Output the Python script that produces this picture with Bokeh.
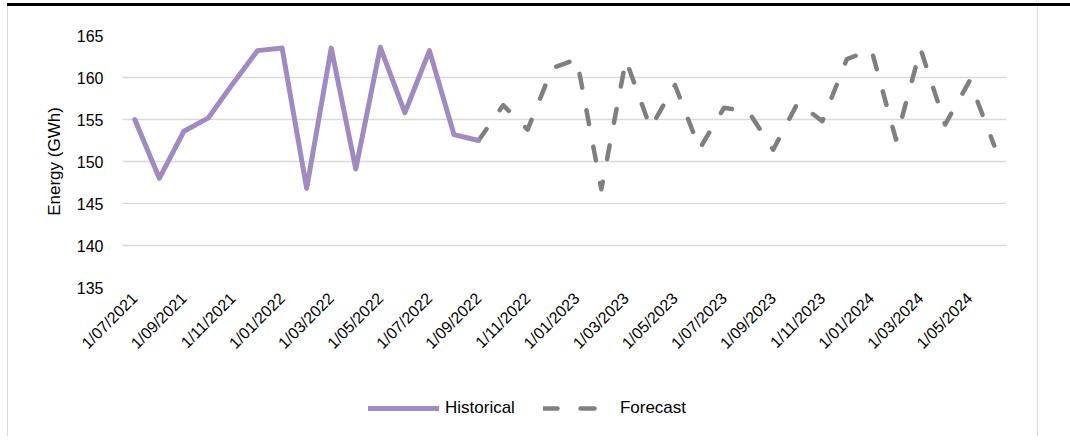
import math
from bokeh.plotting import figure
from bokeh.layouts import column
from bokeh.models import FixedTicker, Legend, LegendItem, Range1d
from bokeh.embed import file_html
from bokeh.resources import INLINE

# ---- data -------------------------------------------------------------
months = ["1/07/2021", "1/08/2021", "1/09/2021", "1/10/2021", "1/11/2021", "1/12/2021",
          "1/01/2022", "1/02/2022", "1/03/2022", "1/04/2022", "1/05/2022", "1/06/2022",
          "1/07/2022", "1/08/2022", "1/09/2022", "1/10/2022", "1/11/2022", "1/12/2022",
          "1/01/2023", "1/02/2023", "1/03/2023", "1/04/2023", "1/05/2023", "1/06/2023",
          "1/07/2023", "1/08/2023", "1/09/2023", "1/10/2023", "1/11/2023", "1/12/2023",
          "1/01/2024", "1/02/2024", "1/03/2024", "1/04/2024", "1/05/2024", "1/06/2024"]

historical = [155.0, 148.0, 153.6, 155.2, 159.3, 163.2, 163.5, 146.8, 163.5, 149.1,
              163.6, 155.8, 163.2, 153.2, 152.5]

forecast_start = 14
forecast = [152.5, 156.7, 153.8, 161.1, 162.2, 146.7, 162.1, 154.0, 159.1, 151.5,
            156.4, 155.9, 151.4, 157.0, 154.8, 162.2, 163.3, 152.6, 163.4, 154.4,
            159.6, 151.9]

tick_labels = months[::2]
y_ticks = [135, 140, 145, 150, 155, 160, 165]
series_names = ["Historical", "Forecast"]

# ---- styles -----------------------------------------------------------
FONT = "Liberation Sans"
HIST_COLOR = "#9f8bc2"
FC_COLOR = "#7f7f7f"
FC_DASH = "14 23"

xs = list(range(len(months)))
hist_x = xs[:len(historical)]
fc_x = xs[forecast_start:forecast_start + len(forecast)]

# ---- main chart -------------------------------------------------------
p = figure(width=1029, height=360, output_backend="svg", toolbar_location=None,
           x_range=Range1d(-0.5, len(months) - 0.5), y_range=Range1d(135, 165),
           min_border_left=114, min_border_right=31, min_border_top=29,
           min_border_bottom=79)
p.outline_line_color = None
p.background_fill_color = "white"
p.border_fill_color = "white"

p.xgrid.grid_line_color = None
p.ygrid.grid_line_color = "#d9d9d9"
p.ygrid.grid_line_width = 1.5

p.xaxis.ticker = FixedTicker(ticks=xs[::2])
p.xaxis.major_label_overrides = {i: lab for i, lab in zip(xs[::2], tick_labels)}
p.xaxis.major_label_orientation = math.pi / 4
p.yaxis.ticker = FixedTicker(ticks=y_ticks)
for ax in (p.xaxis, p.yaxis):
    ax.axis_line_color = None
    ax.major_tick_line_color = None
    ax.minor_tick_line_color = None
    ax.major_tick_out = 0
    ax.major_tick_in = 0
    ax.major_label_text_font = FONT
    ax.major_label_text_font_size = "16px"
    ax.major_label_text_color = "#000000"
p.xaxis.major_label_standoff = 8
p.yaxis.major_label_standoff = 19
p.yaxis.axis_label = "Energy (GWh)"
p.yaxis.axis_label_text_font = FONT
p.yaxis.axis_label_text_font_size = "17px"
p.yaxis.axis_label_text_font_style = "normal"
p.yaxis.axis_label_text_color = "#000000"
p.yaxis.axis_label_standoff = 10

p.line(fc_x, forecast, line_color=FC_COLOR, line_width=4.5,
       line_dash=FC_DASH, line_cap="round", line_join="round")
p.line(hist_x, historical, line_color=HIST_COLOR, line_width=5,
       line_cap="round", line_join="round")

# ---- legend strip -----------------------------------------------------
p2 = figure(width=1029, height=70, output_backend="svg", toolbar_location=None,
            x_range=Range1d(0, 1029), y_range=Range1d(0, 70),
            x_axis_type=None, y_axis_type=None,
            min_border_left=0, min_border_right=0, min_border_top=0,
            min_border_bottom=0)
p2.outline_line_color = None
p2.grid.visible = False
# legend-only renderers, kept outside the visible range of this strip
lg_hist = p2.line([-20, -10], [-20, -20], line_color=HIST_COLOR, line_width=5,
                  line_cap="round")
lg_fc = p2.line([-20, -10], [-20, -20], line_color=FC_COLOR, line_width=4.5,
                line_dash=FC_DASH, line_cap="round")

legend = Legend(items=[LegendItem(label=series_names[0], renderers=[lg_hist]),
                       LegendItem(label=series_names[1], renderers=[lg_fc])],
                orientation="horizontal", location=(246, 18),
                glyph_width=71, glyph_height=20, label_height=20,
                label_standoff=6, spacing=28,
                padding=0, margin=0, border_line_color=None,
                background_fill_alpha=0,
                label_text_font=FONT, label_text_font_size="17px",
                label_text_color="#000000")
p2.add_layout(legend, "center")

inner = column(p, p2, spacing=0)
inner.styles = {"border-left": "1px solid #d9d9d9",
                "border-right": "1px solid #d9d9d9"}
outer = column(inner, width=1063)
outer.styles = {"margin-top": "3px", "margin-left": "7px",
                "border-top": "3px solid #000000"}

open("out.html", "w").write(file_html(outer, INLINE))
